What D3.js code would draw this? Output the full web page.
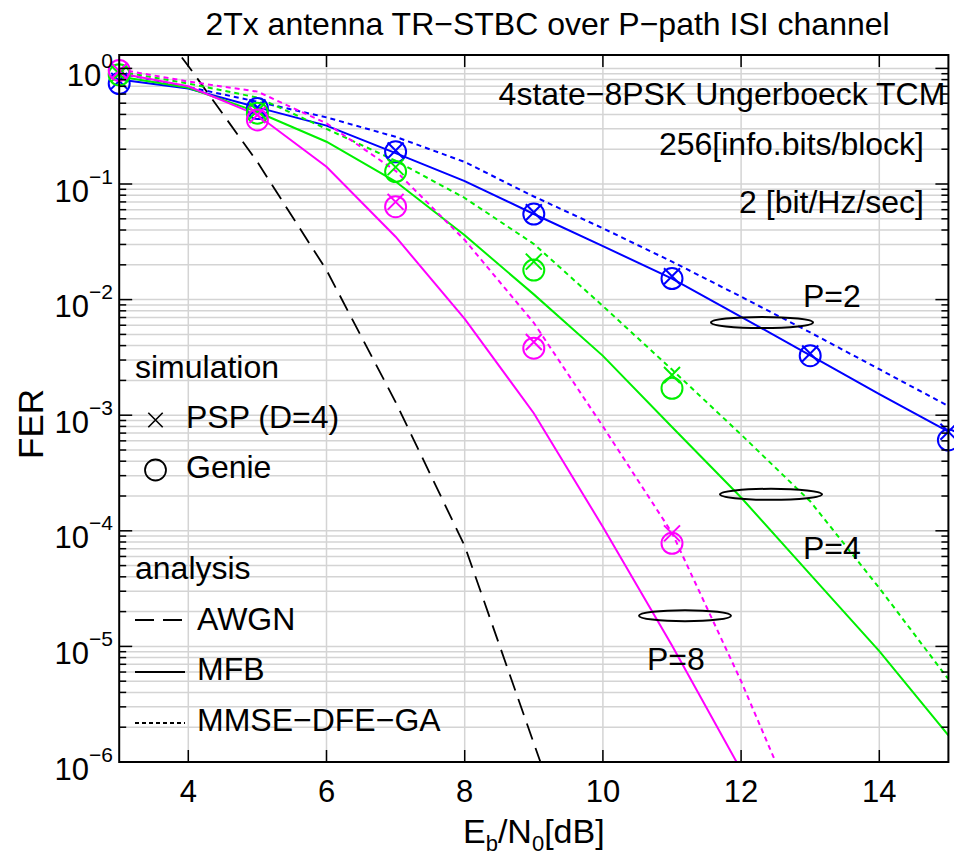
<!DOCTYPE html>
<html><head><meta charset="utf-8">
<script src="https://cdn.jsdelivr.net/npm/d3@7"></script>
<style>
body{margin:0;background:#fff}
text{font-family:"Liberation Sans",Arial,Helvetica,sans-serif;fill:#000}
</style>
</head><body>
<svg id="chart" width="954" height="857"></svg>
<script>
// ---------------- data ----------------
const ebn0 = [3,4,5,6,7,8,9,10,11,12,13,14,15];
const simX = [3,5,7,9,11,13,15];
const awgnX = [3,4,5,6,7,8,9,10];
const awgn  = [6.5,1.05,0.155,0.018,1.3e-3,7.4e-5,1.45e-6,3e-8];

const mfbP2 = [0.80,0.67,0.46,0.32,0.185,0.106,0.055,0.029,0.0152,0.0071,0.0033,0.00152,0.00072];
const mfbP4 = [0.85,0.68,0.42,0.232,0.105,0.036,0.0111,3.26e-3,7.9e-4,1.94e-4,4.2e-5,9.1e-6,1.7e-6];
const mfbP8 = [0.91,0.70,0.395,0.141,0.035,6.8e-3,1.04e-3,1.08e-4,1.02e-5,8.5e-7,6e-8];

const dfeP2 = [0.91,0.69,0.515,0.377,0.256,0.155,0.078,0.0414,0.0213,0.0106,0.0052,0.0025,0.0012];
const dfeP4 = [0.94,0.74,0.56,0.30,0.159,0.0757,0.0303,8.8e-3,2.48e-3,6.8e-4,1.8e-4,3.2e-5,5.2e-6];
const dfeP8 = [0.98,0.77,0.63,0.335,0.13,0.0328,6.3e-3,8e-4,9.6e-5,5e-6,2e-7];

const pspP2   = [0.78,0.46,0.195,0.057,0.0159,0.00342,7.2e-4];
const genieP2 = [0.74,0.45,0.19,0.055,0.0152,0.00327,6.1e-4];
const pspP4   = [0.90,0.43,0.14,0.0213,2.23e-3];
const genieP4 = [0.88,0.41,0.128,0.018,1.71e-3];
const pspP8   = [0.95,0.395,0.07,4.3e-3,9.5e-5];
const genieP8 = [0.96,0.358,0.0636,3.8e-3,7.8e-5];

const xTicks = [4,6,8,10,12,14];
const yDecades = [-6,-5,-4,-3,-2,-1,0];
const minorMult = [2,3,4,5,6,7,8,9];

const titleText = "2Tx antenna TR\u2212STBC over P\u2212path ISI channel";
const notes = ["4state\u22128PSK Ungerboeck TCM","256[info.bits/block]","2 [bit/Hz/sec]"];

// ---------------- layout ----------------
const L = 119.2, R = 948.4, T = 55, B = 762;
const svg = d3.select("#chart");
const x = d3.scaleLinear().domain([3,15]).range([L,R]);
const y = d3.scaleLog().domain([1e-6, Math.pow(10,0.116)]).range([B,T]);

const BLUE="#0000ff", GREEN="#00f000", MAG="#ff00ff";
const FS = 32;

// grid
const majorY = yDecades.map(d=>Math.pow(10,d));
const minorY = [];
yDecades.slice(0,-1).forEach(d=>minorMult.forEach(m=>minorY.push(m*Math.pow(10,d))));
const grid = svg.append("g").attr("stroke","#d4d4d4").attr("stroke-width",1.5);
grid.selectAll("line.h").data(majorY.concat(minorY)).join("line")
  .attr("x1",L).attr("x2",R).attr("y1",d=>y(d)).attr("y2",d=>y(d));
grid.selectAll("line.v").data(xTicks).join("line")
  .attr("y1",T).attr("y2",B).attr("x1",d=>x(d)).attr("x2",d=>x(d));

// clip
svg.append("clipPath").attr("id","clip").append("rect")
  .attr("x",L).attr("y",T).attr("width",R-L).attr("height",B-T);

const line = d3.line().x(d=>x(d[0])).y(d=>y(d[1]));
const plot = svg.append("g").attr("clip-path","url(#clip)").attr("fill","none");
const zip = (xs,vs)=>vs.map((v,i)=>[xs[i],v]);

const curves = [
  {xs:awgnX, v:awgn,  c:"#000", dash:"17,9", w:1.8},
  {xs:ebn0, v:dfeP2, c:BLUE,  dash:"5,4", w:2},
  {xs:ebn0, v:mfbP2, c:BLUE,  dash:null,  w:2},
  {xs:ebn0, v:dfeP4, c:GREEN, dash:"5,4", w:2},
  {xs:ebn0, v:mfbP4, c:GREEN, dash:null,  w:2},
  {xs:ebn0, v:dfeP8, c:MAG,   dash:"5,4", w:2},
  {xs:ebn0, v:mfbP8, c:MAG,   dash:null,  w:2},
];
curves.forEach(s=>{
  plot.append("path").datum(zip(s.xs,s.v)).attr("d",line)
    .attr("stroke",s.c).attr("stroke-width",s.w)
    .attr("stroke-dasharray",s.dash);
});

// markers
const crossPath = "M-8,-8L8,8M-8,8L8,-8";
const mk = svg.append("g").attr("fill","none").attr("stroke-width",2);
[[pspP2,genieP2,BLUE],[pspP4,genieP4,GREEN],[pspP8,genieP8,MAG]].forEach(([p,g,c])=>{
  mk.selectAll(null).data(zip(simX,p)).join("path")
    .attr("d",crossPath).attr("stroke",c)
    .attr("transform",d=>`translate(${x(d[0])},${y(d[1])})`);
  mk.selectAll(null).data(zip(simX,g)).join("circle")
    .attr("r",10.5).attr("stroke",c)
    .attr("cx",d=>x(d[0])).attr("cy",d=>y(d[1]));
});

// axes box + ticks
const ax = svg.append("g").attr("stroke","#000");
ax.append("rect").attr("x",L).attr("y",T).attr("width",R-L).attr("height",B-T)
  .attr("fill","none").attr("stroke-width",2);
const tk = ax.append("g").attr("stroke-width",1.5);
tk.selectAll(null).data(majorY).join("line").attr("x1",L).attr("x2",L+13).attr("y1",d=>y(d)).attr("y2",d=>y(d));
tk.selectAll(null).data(minorY).join("line").attr("x1",L).attr("x2",L+7).attr("y1",d=>y(d)).attr("y2",d=>y(d));
tk.selectAll(null).data(majorY).join("line").attr("x1",R).attr("x2",R-13).attr("y1",d=>y(d)).attr("y2",d=>y(d));
tk.selectAll(null).data(minorY).join("line").attr("x1",R).attr("x2",R-7).attr("y1",d=>y(d)).attr("y2",d=>y(d));
tk.selectAll(null).data(xTicks).join("line").attr("y1",B).attr("y2",B-12).attr("x1",d=>x(d)).attr("x2",d=>x(d));
tk.selectAll(null).data(xTicks).join("line").attr("y1",T).attr("y2",T+12).attr("x1",d=>x(d)).attr("x2",d=>x(d));

// tick labels
svg.append("g").selectAll("text").data(xTicks).join("text")
  .attr("x",d=>x(d)).attr("y",802).attr("text-anchor","middle")
  .attr("font-size",31).text(d=>d);
const yl = svg.append("g").selectAll("text").data(yDecades).join("text")
  .attr("x",113).attr("y",d=>y(Math.pow(10,d))+17.5).attr("text-anchor","end");
yl.append("tspan").attr("font-size",31).text("10");
yl.append("tspan").attr("font-size",21).attr("dy",-18)
  .text(d=> d<0 ? "\u2212"+(-d) : String(d));

// axis titles
const xt = svg.append("text").attr("x",(L+R)/2).attr("y",843).attr("text-anchor","middle").attr("font-size",34);
xt.append("tspan").text("E");
xt.append("tspan").attr("font-size",22).attr("dy",8).text("b");
xt.append("tspan").attr("dy",-8).text("/N");
xt.append("tspan").attr("font-size",22).attr("dy",8).text("0");
xt.append("tspan").attr("dy",-8).text("[dB]");
svg.append("text").attr("transform","translate(43,424) rotate(-90)")
  .attr("text-anchor","middle").attr("font-size",35).text("FER");

// title
svg.append("text").attr("x",547.5).attr("y",35).attr("text-anchor","middle")
  .attr("font-size",FS).text(titleText);

// notes
svg.append("text").attr("x",498.6).attr("y",105).attr("font-size",FS).text(notes[0]);
svg.append("text").attr("x",924).attr("y",155).attr("text-anchor","end").attr("font-size",FS).text(notes[1]);
svg.append("text").attr("x",924).attr("y",213).attr("text-anchor","end").attr("font-size",FS).text(notes[2]);

// P labels + ellipses
const el = svg.append("g").attr("fill","none").attr("stroke","#000").attr("stroke-width",2);
el.append("ellipse").attr("cx",762).attr("cy",322.5).attr("rx",51).attr("ry",5.5);
el.append("ellipse").attr("cx",771).attr("cy",494.3).attr("rx",51).attr("ry",5.5);
el.append("ellipse").attr("cx",685).attr("cy",615.7).attr("rx",46).attr("ry",5.5);
svg.append("text").attr("x",803).attr("y",307).attr("font-size",FS).text("P=2");
svg.append("text").attr("x",803).attr("y",559).attr("font-size",FS).text("P=4");
svg.append("text").attr("x",647).attr("y",670).attr("font-size",FS).text("P=8");

// legend
const lg = svg.append("g");
lg.append("text").attr("x",135).attr("y",378).attr("font-size",FS).text("simulation");
lg.append("path").attr("d",crossPath).attr("transform","translate(155.5,420) scale(0.9)")
  .attr("stroke","#000").attr("stroke-width",1.8).attr("fill","none");
lg.append("text").attr("x",186).attr("y",428).attr("font-size",FS).text("PSP (D=4)");
lg.append("circle").attr("cx",155.5).attr("cy",470).attr("r",10.5)
  .attr("stroke","#000").attr("stroke-width",1.8).attr("fill","none");
lg.append("text").attr("x",186).attr("y",478).attr("font-size",FS).text("Genie");
lg.append("text").attr("x",135).attr("y",579).attr("font-size",FS).text("analysis");
lg.append("line").attr("x1",135).attr("x2",185).attr("y1",620).attr("y2",620)
  .attr("stroke","#000").attr("stroke-width",1.8).attr("stroke-dasharray","19,9");
lg.append("text").attr("x",197).attr("y",630).attr("font-size",FS).text("AWGN");
lg.append("line").attr("x1",135).attr("x2",185).attr("y1",672).attr("y2",672)
  .attr("stroke","#000").attr("stroke-width",1.8);
lg.append("text").attr("x",197).attr("y",680).attr("font-size",FS).text("MFB");
lg.append("line").attr("x1",135).attr("x2",185).attr("y1",723).attr("y2",723)
  .attr("stroke","#000").attr("stroke-width",1.8).attr("stroke-dasharray","4,3");
lg.append("text").attr("x",197).attr("y",731).attr("font-size",FS).text("MMSE\u2212DFE\u2212GA");
</script>
</body></html>
